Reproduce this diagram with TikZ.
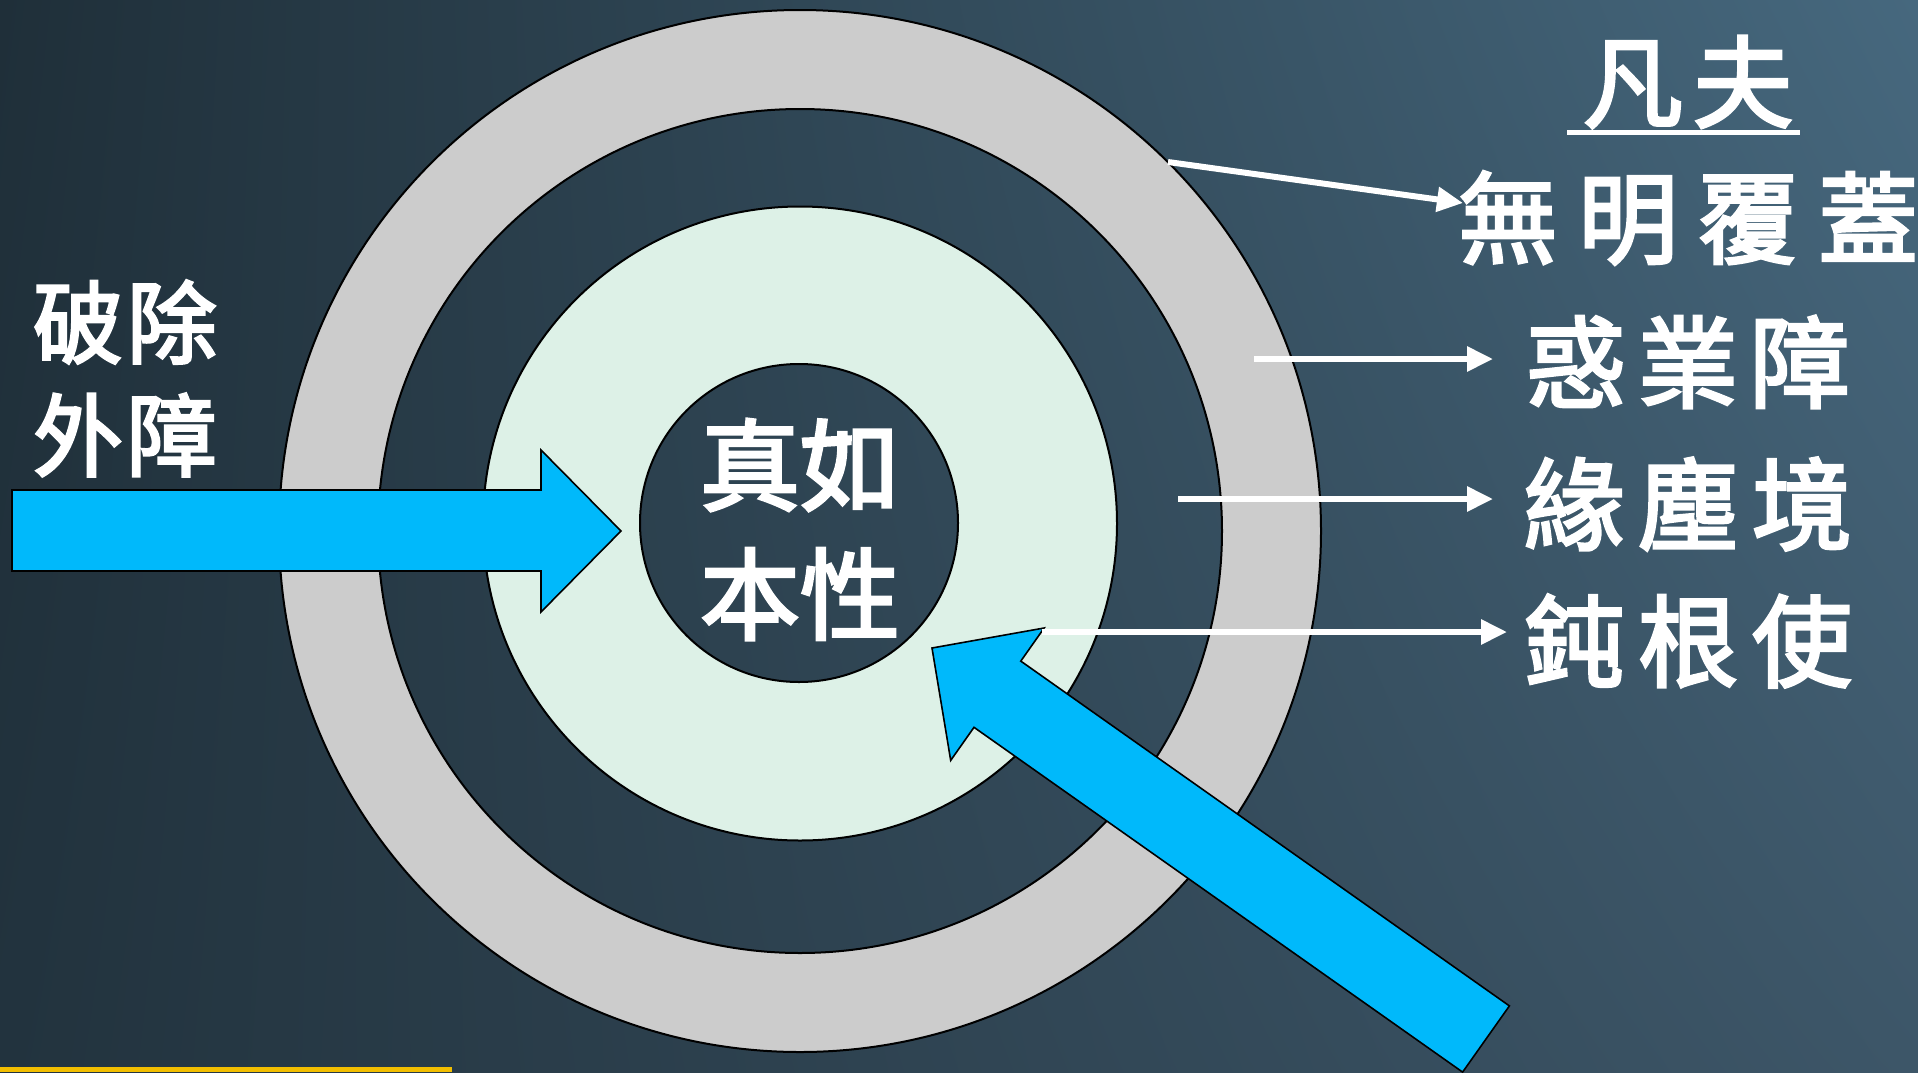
\documentclass[tikz,border=0pt]{standalone}
\usepackage{fontspec}
\newfontfamily\cjk[FakeBold=3]{Noto Sans CJK TC}
\usetikzlibrary{arrows.meta,shadings}
\definecolor{bgUL}{HTML}{1F2F39}
\definecolor{bgUR}{HTML}{46687E}
\definecolor{bgLL}{HTML}{22333E}
\definecolor{bgLR}{HTML}{3D5668}
\definecolor{ringgray}{HTML}{CCCCCC}
\definecolor{paleg}{HTML}{DDF1E7}
\definecolor{skyb}{HTML}{00B9FB}
\definecolor{goldl}{HTML}{F2BE00}
\begin{document}
\begin{tikzpicture}[x=0.5pt,y=-0.5pt,
  lbl/.style={text=white,font=\cjk\fontsize{50pt}{60pt}\selectfont,inner sep=0pt},
  lblsmall/.style={lbl,font=\cjk\fontsize{45pt}{54pt}\selectfont},
  ptr/.style={draw=white,line width=3pt,-{Triangle[length=13pt,width=12pt]}},
  bigarrow/.style={fill=skyb,draw=black,line width=0.8pt,line join=miter},
  ringline/.style={draw=black,line width=1pt}]
\useasboundingbox (0,0) rectangle (1918,1072);
% background
\shade[upper left=bgUL,upper right=bgUR,lower left=bgLL,lower right=bgLR] (0,0) rectangle (1918,1072);
\fill[goldl] (0,1067) rectangle (452,1072);
% rings
\fill[ringgray,even odd rule] (800,531) circle[radius=260.5pt] (800,531) circle[radius=211pt];
\fill[paleg,even odd rule] (800,523.5) circle[radius=158.5pt] (799,523) circle[radius=79.5pt];
\draw[ringline] (800,531) circle[radius=260.5pt];
\draw[ringline] (800,531) circle[radius=211pt];
\draw[ringline] (800,523.5) circle[radius=158.5pt];
\draw[ringline] (799,523) circle[radius=79.5pt];
% left big arrow
\draw[bigarrow] (12,490) -- (541,490) -- (541,450) -- (621,531) -- (541,612) -- (541,571) -- (12,571) -- cycle;
% diagonal big arrow
\draw[bigarrow] (932,648) -- (1044.1,628.0) -- (1020.8,661.1) -- (1509.4,1005.9) -- (1462.6,1072.1) -- (974.0,727.3) -- (950.7,760.4) -- cycle;
% labels
\node[lbl] (fanfu) at (1688,82) {凡\hspace{5pt}夫};
\draw[white,line width=2.5pt] (1567,132) -- (1800,132);
\node[lbl] (wuming) at (1688,218) {無\hspace{10pt}明\hspace{10pt}覆\hspace{10pt}蓋};
\node[lbl] (huoye) at (1688,362) {惑\hspace{6pt}業\hspace{6pt}障};
\node[lbl] (yuanchen) at (1688,504) {緣\hspace{7pt}塵\hspace{7pt}境};
\node[lbl] (dungen) at (1688,641) {鈍\hspace{7pt}根\hspace{7pt}使};
\node[lblsmall] (pochu) at (125,322) {破\hspace{2pt}除};
\node[lblsmall] (waizhang) at (125,435) {外\hspace{2pt}障};
\node[lbl] (zhenru) at (800,465) {真如};
\node[lbl] (benxing) at (800,594) {本性};
% pointers
\coordinate (s1) at (1168,162);
\coordinate (t1) at (1463,203);
\coordinate (s2) at (1254,359);
\coordinate (t2) at (1493,359);
\coordinate (s3) at (1178,499);
\coordinate (t3) at (1493,499);
\coordinate (s4) at (1042,632);
\coordinate (t4) at (1507,632);
\draw[ptr] (s1) -- (t1);
\draw[ptr] (s2) -- (t2);
\draw[ptr] (s3) -- (t3);
\draw[ptr] (s4) -- (t4);
\end{tikzpicture}
\end{document}
